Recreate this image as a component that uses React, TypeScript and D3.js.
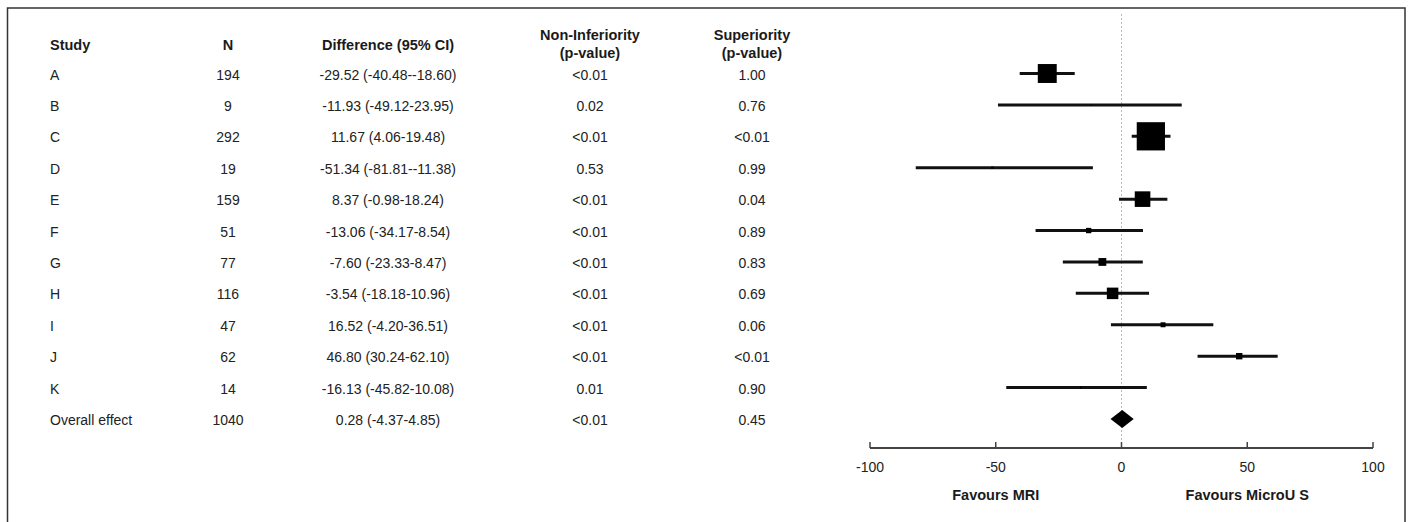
import React from "react";
import * as d3 from "d3";

const studies = ["A", "B", "C", "D", "E", "F", "G", "H", "I", "J", "K"];
const sampleSizes = [194, 9, 292, 19, 159, 51, 77, 116, 47, 62, 14];
const differences = [-29.52, -11.93, 11.67, -51.34, 8.37, -13.06, -7.6, -3.54, 16.52, 46.8, -16.13];
const ciLower = [-40.48, -49.12, 4.06, -81.81, -0.98, -34.17, -23.33, -18.18, -4.2, 30.24, -45.82];
const ciUpper = [-18.6, 23.95, 19.48, -11.38, 18.24, 8.54, 8.47, 10.96, 36.51, 62.1, 10.08];
const nonInfP = ["<0.01", "0.02", "<0.01", "0.53", "<0.01", "<0.01", "<0.01", "<0.01", "<0.01", "<0.01", "0.01"];
const supP = ["1.00", "0.76", "<0.01", "0.99", "0.04", "0.89", "0.83", "0.69", "0.06", "<0.01", "0.90"];

const overallLabel = "Overall effect";
const overallN = 1040;
const overallDiff = 0.28;
const overallLower = -4.37;
const overallUpper = 4.85;
const overallNonInfP = "<0.01";
const overallSupP = "0.45";

const xTicks = [-100, -50, 0, 50, 100];
const favourLabels = [
  { at: -50, text: "Favours MRI" },
  { at: 50, text: "Favours MicroU S" },
];

const FONT = "'Liberation Sans', Arial, Helvetica, sans-serif";

export default function App() {
  const W = 1410;
  const H = 522;
  const x = d3.scaleLinear().domain([-100, 100]).range([870, 1373]);
  const rowY = d3.scaleLinear().domain([0, 11]).range([73.5, 419]);
  const size = d3.scaleLinear().domain([0, 300]).range([0.5, 29]);
  const axisY = 448;

  const colStudy = 50;
  const colN = 228;
  const colDiff = 388;
  const colNonInf = 590;
  const colSup = 752;

  const fmt = (v: number) => v.toFixed(2);
  const diffText = (d: number, lo: number, hi: number) => `${fmt(d)} (${fmt(lo)}-${fmt(hi)})`;

  const textStyle = { fontFamily: FONT, fontSize: 14, fill: "#222" } as const;
  const headStyle = { fontFamily: FONT, fontSize: 14.5, fill: "#1a1a1a", fontWeight: 700 } as const;

  const oy = rowY(11);
  const diamond = d3.line<[number, number]>()([
    [x(overallLower), oy],
    [x(overallDiff), oy - 9],
    [x(overallUpper), oy],
    [x(overallDiff), oy + 9],
  ]) + "Z";

  return (
    <svg
      width={W}
      height={H}
      style={{ position: "absolute", left: 0, top: 0, background: "#fff" }}
    >
      <rect x={0} y={0} width={W} height={H} fill="#fff" />
      <rect x={7.5} y={8} width={1397.5} height={530} fill="none" stroke="#333" strokeWidth={1.5} />

      {/* headers */}
      <text x={colStudy} y={45} dominantBaseline="central" style={headStyle}>Study</text>
      <text x={colN} y={45} textAnchor="middle" dominantBaseline="central" style={headStyle}>N</text>
      <text x={colDiff} y={45} textAnchor="middle" dominantBaseline="central" style={headStyle}>Difference (95% CI)</text>
      <text x={colNonInf} y={35} textAnchor="middle" dominantBaseline="central" style={headStyle}>Non-Inferiority</text>
      <text x={colNonInf} y={53} textAnchor="middle" dominantBaseline="central" style={headStyle}>(p-value)</text>
      <text x={colSup} y={35} textAnchor="middle" dominantBaseline="central" style={headStyle}>Superiority</text>
      <text x={colSup} y={53} textAnchor="middle" dominantBaseline="central" style={headStyle}>(p-value)</text>

      {/* zero reference line */}
      <line x1={x(0)} x2={x(0)} y1={14} y2={axisY} stroke="#b8b8b8" strokeWidth={1} strokeDasharray="2,2" />

      {/* study rows */}
      {studies.map((s, i) => {
        const y = rowY(i);
        const sz = size(sampleSizes[i]);
        return (
          <g key={s}>
            <text x={colStudy} y={y + 1} dominantBaseline="central" style={textStyle}>{s}</text>
            <text x={colN} y={y + 1} textAnchor="middle" dominantBaseline="central" style={textStyle}>{sampleSizes[i]}</text>
            <text x={colDiff} y={y + 1} textAnchor="middle" dominantBaseline="central" style={textStyle}>
              {diffText(differences[i], ciLower[i], ciUpper[i])}
            </text>
            <text x={colNonInf} y={y + 1} textAnchor="middle" dominantBaseline="central" style={textStyle}>{nonInfP[i]}</text>
            <text x={colSup} y={y + 1} textAnchor="middle" dominantBaseline="central" style={textStyle}>{supP[i]}</text>
            <line x1={x(ciLower[i])} x2={x(ciUpper[i])} y1={y} y2={y} stroke="#111" strokeWidth={3} />
            <rect x={x(differences[i]) - sz / 2} y={y - sz / 2} width={sz} height={sz} fill="#000" />
          </g>
        );
      })}

      {/* overall row */}
      <text x={colStudy} y={oy + 1} dominantBaseline="central" style={textStyle}>{overallLabel}</text>
      <text x={colN} y={oy + 1} textAnchor="middle" dominantBaseline="central" style={textStyle}>{overallN}</text>
      <text x={colDiff} y={oy + 1} textAnchor="middle" dominantBaseline="central" style={textStyle}>
        {diffText(overallDiff, overallLower, overallUpper)}
      </text>
      <text x={colNonInf} y={oy + 1} textAnchor="middle" dominantBaseline="central" style={textStyle}>{overallNonInfP}</text>
      <text x={colSup} y={oy + 1} textAnchor="middle" dominantBaseline="central" style={textStyle}>{overallSupP}</text>
      <path d={diamond} fill="#000" />

      {/* axis */}
      <line x1={x(-100)} x2={x(100)} y1={axisY} y2={axisY} stroke="#444" strokeWidth={2} />
      {xTicks.map((t) => (
        <g key={t}>
          <line x1={x(t)} x2={x(t)} y1={axisY - 6} y2={axisY} stroke="#444" strokeWidth={1.5} />
          <text x={x(t)} y={467} textAnchor="middle" dominantBaseline="central" style={textStyle}>{t}</text>
        </g>
      ))}
      {favourLabels.map((f) => (
        <text key={f.text} x={x(f.at)} y={495} textAnchor="middle" dominantBaseline="central" style={headStyle}>
          {f.text}
        </text>
      ))}
    </svg>
  );
}
